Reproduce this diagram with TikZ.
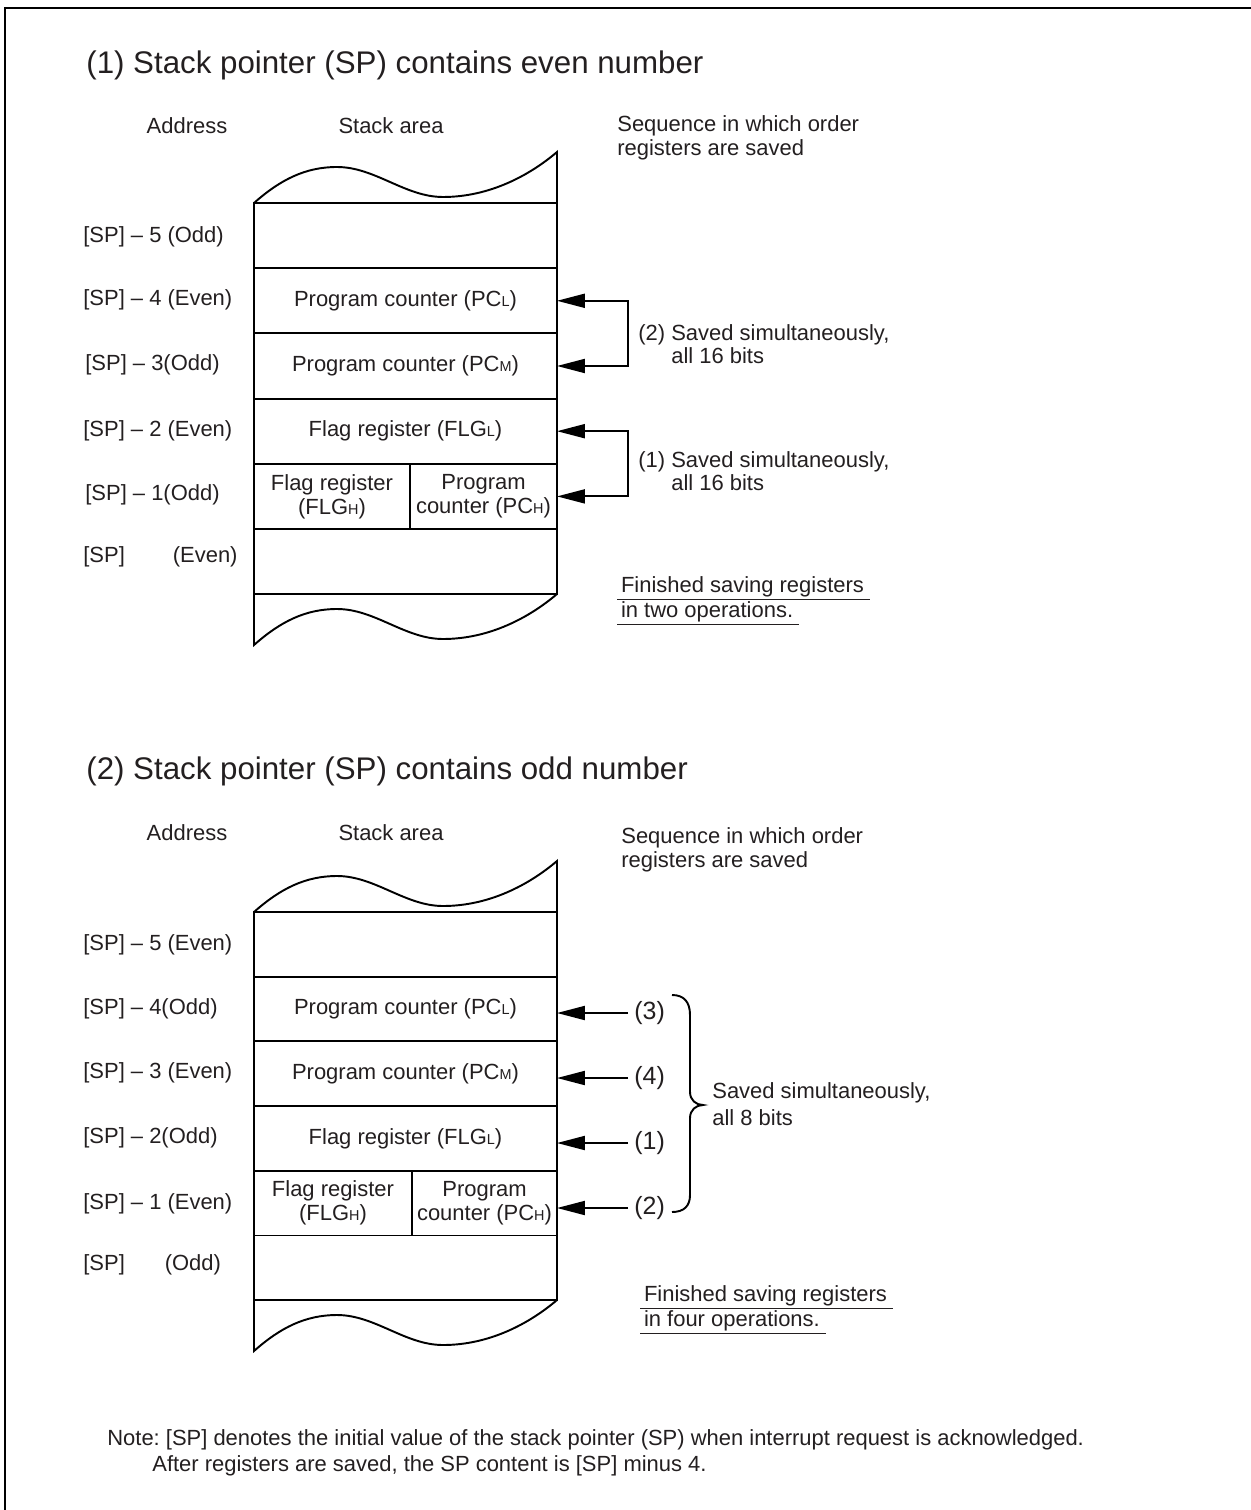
\documentclass[tikz,border=0pt]{standalone}
\usepackage{fontspec}
\setmainfont{Liberation Sans}
\usetikzlibrary{arrows.meta}
\definecolor{ink}{HTML}{231F20}
\newcommand\sbs[1]{{\fontsize{8.2pt}{9pt}\selectfont #1}}
\frenchspacing
\begin{document}
\begin{tikzpicture}[x=0.02cm,y=-0.02cm,
  txt/.style={font=\fontsize{12.5pt}{13.6pt}\selectfont, text=ink, inner sep=0pt},
  titletxt/.style={font=\fontsize{17.8pt}{20pt}\selectfont, text=ink, inner sep=0pt, anchor=west},
  addr/.style={txt, anchor=west},
  boxline/.style={line width=1.1pt, draw=black},
  cell/.style={txt, draw=black, line width=1.1pt, anchor=north west, outer sep=0pt, align=center, minimum width=6.06cm, minimum height=1.304cm},
  cellB/.style={cell, minimum height=1.294cm},
  arr/.style={line width=1.1pt, -{Triangle[length=5.6mm,width=2.8mm]}},
  arrb/.style={line width=1.1pt, {Triangle[length=5.6mm,width=2.8mm]}-{Triangle[length=5.6mm,width=2.8mm]}},
  numlbl/.style={txt, font=\fontsize{14.2pt}{15pt}\selectfont, anchor=west, inner xsep=0.12cm}
]
\useasboundingbox (0,0) rectangle (1250,1510);
% frame
\draw[line width=1.7pt] (5,1515) -- (5,8) -- (1255,8);

% ================= Part 1 =================
\node[titletxt] (t1) at (86,65) {(1) Stack pointer (SP) contains even number};
\node[txt] (ad1) at (187,126) {Address};
\node[txt] (sa1) at (391,126) {Stack area};
\node[txt, anchor=west, align=left] (sq1) at (617,138) {Sequence in which order\\registers are saved};

% waves and sides
\draw[boxline] (254,203) .. controls (280,180) and (305,167) .. (337,167)
  .. controls (375,167) and (405,197) .. (443,197)
  .. controls (490,197) and (530,175) .. (557,152) -- (557,203);
\begin{scope}[shift={(0,442)}]
\draw[boxline] (254,152) -- (254,203) .. controls (280,180) and (305,167) .. (337,167)
  .. controls (375,167) and (405,197) .. (443,197)
  .. controls (490,197) and (530,175) .. (557,152);
\end{scope}

% rows
\node[cell] (r1) at (254,203) {};
\node[cell] (r2) at (254,268.2) {Program counter (PC\sbs{L})};
\node[cell] (r3) at (254,333.4) {Program counter (PC\sbs{M})};
\node[cell] (r4) at (254,398.6) {Flag register (FLG\sbs{L})};
\node[cell, minimum width=3.12cm] (r5a) at (254,463.8) {Flag register\\(FLG\sbs{H})};
\node[cell, minimum width=2.94cm] (r5b) at (410,463.8) {Program\\counter (PC\sbs{H})};
\node[cell] (r6) at (254,529) {};

% addresses
\node[addr] (a15) at (83,237) {[SP] – 5 (Odd)};
\node[addr] (a14) at (83,300) {[SP] – 4 (Even)};
\node[addr] (a13) at (85,365) {[SP] – 3(Odd)};
\node[addr] (a12) at (83,431) {[SP] – 2 (Even)};
\node[addr] (a11) at (85,495) {[SP] – 1(Odd)};
\node[addr] (a10) at (83,557) {[SP]\hspace{0.96cm}(Even)};

% brackets
\coordinate (k1) at (628,0);
\draw[arrb] (r2.east) -- (r2.east -| k1) -- (r3.east -| k1) -- (r3.east);
\draw[arrb] (r4.east) -- (r4.east -| k1) -- (r5b.east -| k1) -- (r5b.east);
\node[txt, anchor=west, align=left, font=\fontsize{12.5pt}{12.8pt}\selectfont] (s12) at (638,344) {(2) Saved simultaneously,\\\hphantom{(2)}\ all 16 bits};
\node[txt, anchor=west, align=left, font=\fontsize{12.5pt}{12.8pt}\selectfont] (s11) at (638,471) {(1) Saved simultaneously,\\\hphantom{(1)}\ all 16 bits};

\node[txt, anchor=west, align=left] (f1) at (617,601) {\underline{\,Finished saving registers\ }\\\underline{\,in two operations.\ }};

% ================= Part 2 =================
\node[titletxt] (t2) at (86,771) {(2) Stack pointer (SP) contains odd number};
\node[txt] (ad2) at (187,833) {Address};
\node[txt] (sa2) at (391,833) {Stack area};
\node[txt, anchor=west, align=left] (sq2) at (621,850) {Sequence in which order\\registers are saved};

\begin{scope}[shift={(0,709)}]
\draw[boxline] (254,203) .. controls (280,180) and (305,167) .. (337,167)
  .. controls (375,167) and (405,197) .. (443,197)
  .. controls (490,197) and (530,175) .. (557,152) -- (557,203);
\end{scope}
\begin{scope}[shift={(0,1148)}]
\draw[boxline] (254,152) -- (254,203) .. controls (280,180) and (305,167) .. (337,167)
  .. controls (375,167) and (405,197) .. (443,197)
  .. controls (490,197) and (530,175) .. (557,152);
\end{scope}

\node[cellB] (q1) at (254,912) {};
\node[cellB] (q2) at (254,976.7) {Program counter (PC\sbs{L})};
\node[cellB] (q3) at (254,1041.4) {Program counter (PC\sbs{M})};
\node[cellB] (q4) at (254,1106.1) {Flag register (FLG\sbs{L})};
\node[cellB, minimum width=3.16cm] (q5a) at (254,1170.8) {Flag register\\(FLG\sbs{H})};
\node[cellB, minimum width=2.9cm] (q5b) at (412,1170.8) {Program\\counter (PC\sbs{H})};
\node[cellB] (q6) at (254,1235.5) {};

\node[addr] (b15) at (83,945) {[SP] – 5 (Even)};
\node[addr] (b14) at (83,1009) {[SP] – 4(Odd)};
\node[addr] (b13) at (83,1073) {[SP] – 3 (Even)};
\node[addr] (b12) at (83,1138) {[SP] – 2(Odd)};
\node[addr] (b11) at (83,1204) {[SP] – 1 (Even)};
\node[addr] (b10) at (83,1265) {[SP]\hspace{0.8cm}(Odd)};

\node[numlbl] (n3) at (628,1013) {(3)};
\node[numlbl] (n4) at (628,1078) {(4)};
\node[numlbl] (n1) at (628,1143) {(1)};
\node[numlbl] (n2) at (628,1208) {(2)};
\draw[arr] (n3.west) -- (n3.west -| q2.east);
\draw[arr] (n4.west) -- (n4.west -| q3.east);
\draw[arr] (n1.west) -- (n1.west -| q4.east);
\draw[arr] (n2.west) -- (n2.west -| q5b.east);

% brace
\draw[line width=1.1pt] (672,995) .. controls (684,995) and (690,1002) .. (690,1015)
  -- (690,1092) .. controls (690,1100) and (696,1105) .. (703,1105)
  .. controls (696,1105) and (690,1110) .. (690,1118)
  -- (690,1195) .. controls (690,1206) and (684,1212) .. (672,1212);
\node[txt, anchor=west, align=left, font=\fontsize{12.5pt}{15.3pt}\selectfont] (s2) at (712,1104) {Saved simultaneously,\\all 8 bits};

\node[txt, anchor=west, align=left] (f2) at (640,1310) {\underline{\,Finished saving registers\ }\\\underline{\,in four operations.\ }};

% note
\node[addr] (nt1) at (107,1440) {Note: [SP] denotes the initial value of the stack pointer (SP) when interrupt request is acknowledged.};
\node[addr] (nt2) at (152,1466) {After registers are saved, the SP content is [SP] minus 4.};
\end{tikzpicture}
\end{document}
